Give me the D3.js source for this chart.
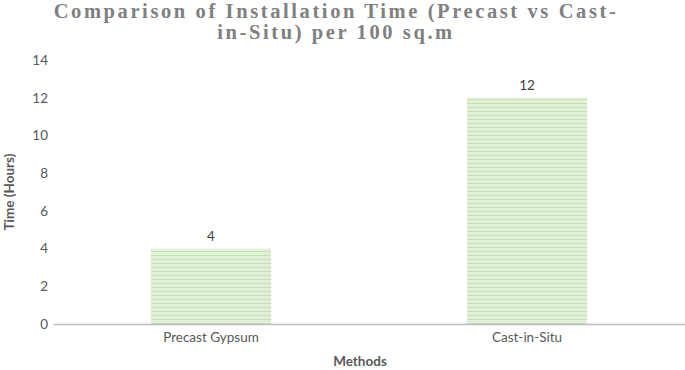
<!DOCTYPE html>
<html>
<head>
<meta charset="utf-8">
<script src="https://cdn.jsdelivr.net/npm/d3@7"></script>
<style>
  body { margin: 0; background: #fff; }
  svg { display: block; }
  .tick text { font-family: Lato, "Open Sans", sans-serif; font-size: 13.5px; fill: #595959; }
</style>
</head>
<body>
<svg id="chart"></svg>
<script>
const methods = ['Precast Gypsum', 'Cast-in-Situ'];
const hours = [4, 12];
const yTicks = [0, 2, 4, 6, 8, 10, 12, 14];
const titleLines = ['Comparison of Installation Time (Precast vs Cast-', 'in-Situ) per 100 sq.m'];

const width = 685, height = 370;
const margin = {top: 60, right: 0, bottom: 46, left: 53};

const svg = d3.select('#chart')
    .attr('width', width)
    .attr('height', height);

// stripe pattern for bars
const pattern = svg.append('defs').append('pattern')
    .attr('id', 'stripes')
    .attr('patternUnits', 'userSpaceOnUse')
    .attr('width', 8)
    .attr('height', 4);
pattern.append('rect')
    .attr('width', 8).attr('height', 4)
    .attr('fill', '#e2efd9');
pattern.append('rect')
    .attr('y', 3).attr('width', 8).attr('height', 1)
    .attr('fill', '#c5e0b4');

const xScale = d3.scaleBand()
    .domain(methods)
    .range([margin.left, width - margin.right])
    .paddingInner(0.62)
    .paddingOuter(0.31);

const yScale = d3.scaleLinear()
    .domain([0, 14])
    .range([height - margin.bottom, margin.top]);

// y axis (labels only)
const yAxisG = svg.append('g')
    .attr('transform', `translate(${margin.left},0)`)
    .call(d3.axisLeft(yScale).tickValues(yTicks).tickSize(0).tickPadding(5));
yAxisG.select('.domain').remove();

// bars
svg.selectAll('.bar')
  .data(methods)
  .join('rect')
    .attr('class', 'bar')
    .attr('x', d => xScale(d))
    .attr('width', xScale.bandwidth())
    .attr('y', (d, i) => yScale(hours[i]))
    .attr('height', (d, i) => yScale(0) - yScale(hours[i]))
    .attr('fill', 'url(#stripes)');

// x axis
const xAxisG = svg.append('g')
    .attr('transform', `translate(0,${yScale(0)})`)
    .call(d3.axisBottom(xScale).tickSize(0).tickPadding(8));
xAxisG.select('.domain')
    .attr('stroke', '#bfbfbf')
    .attr('stroke-width', 1.5);

// value labels
svg.selectAll('.value')
  .data(methods)
  .join('text')
    .attr('class', 'value')
    .attr('x', d => xScale(d) + xScale.bandwidth() / 2)
    .attr('y', (d, i) => yScale(hours[i]) - 8)
    .attr('text-anchor', 'middle')
    .style('font-family', 'Lato, "Open Sans", sans-serif')
    .style('font-size', '13.5px')
    .style('fill', '#404040')
    .text((d, i) => hours[i]);

// title
svg.append('text')
    .attr('text-anchor', 'middle')
    .style('font-family', '"Liberation Serif", "Times New Roman", serif')
    .style('font-weight', 'bold')
    .style('font-size', '20.5px')
    .style('letter-spacing', '2.6px')
    .style('fill', '#808080')
  .selectAll('tspan')
  .data(titleLines)
  .join('tspan')
    .attr('x', 336)
    .attr('y', (d, i) => 18 + i * 21)
    .text(d => d);

// axis titles
svg.append('text')
    .attr('transform', `translate(14,${(yScale(0) + yScale(14)) / 2}) rotate(-90)`)
    .attr('text-anchor', 'middle')
    .style('font-family', 'Lato, "Open Sans", sans-serif')
    .style('font-weight', 'bold')
    .style('font-size', '13.5px')
    .style('fill', '#595959')
    .text('Time (Hours)');

svg.append('text')
    .attr('x', 360)
    .attr('y', 366)
    .attr('text-anchor', 'middle')
    .style('font-family', 'Lato, "Open Sans", sans-serif')
    .style('font-weight', 'bold')
    .style('font-size', '13.5px')
    .style('fill', '#595959')
    .text('Methods');
</script>
</body>
</html>
